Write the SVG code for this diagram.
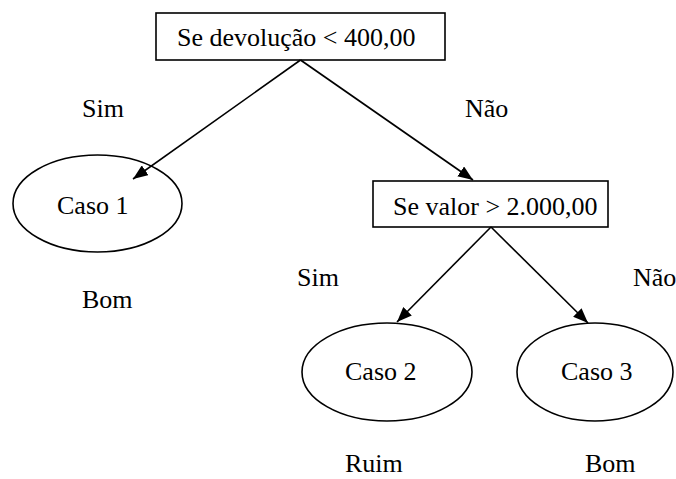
<svg xmlns="http://www.w3.org/2000/svg" width="676" height="479" viewBox="0 0 676 479">
  <style>
    .box { fill: #fff; stroke: #000; stroke-width: 1.6; }
    .oval { fill: none; stroke: #000; stroke-width: 1.6; }
    .edge { stroke: #000; stroke-width: 1.6; fill: none; marker-end: url(#arrow); }
  </style>
  <defs>
    <marker id="arrow" markerUnits="userSpaceOnUse" markerWidth="16" markerHeight="12" refX="15" refY="6" orient="auto">
      <path d="M0,0 L15,6 L0,12 z" fill="#000"/>
    </marker>
  </defs>

  <rect width="676" height="479" fill="#fff"/>

  <g font-family="Liberation Serif, Times New Roman, serif" font-size="26" fill="#000">
    <g id="decisao-devolucao">
      <rect class="box" x="156" y="13" width="289" height="47"/>
      <text x="177" y="46">Se devolução &lt; 400,00</text>
    </g>

    <g id="caso-1">
      <ellipse class="oval" cx="97.5" cy="203.5" rx="84.5" ry="48.5"/>
      <text x="57" y="214">Caso 1</text>
    </g>

    <g id="decisao-valor">
      <rect class="box" x="373" y="181" width="235" height="46"/>
      <text x="393" y="215">Se valor &gt; 2.000,00</text>
    </g>

    <g id="caso-2">
      <ellipse class="oval" cx="387" cy="372" rx="85" ry="49"/>
      <text x="345" y="380">Caso 2</text>
    </g>

    <g id="caso-3">
      <ellipse class="oval" cx="595" cy="372" rx="78" ry="49"/>
      <text x="561" y="380">Caso 3</text>
    </g>

    <g id="connectors">
      <line class="edge" x1="300.5" y1="60" x2="133" y2="179"/>
      <line class="edge" x1="300.5" y1="60" x2="473" y2="180"/>
      <line class="edge" x1="491" y1="227" x2="397" y2="322"/>
      <line class="edge" x1="491" y1="227" x2="588" y2="323"/>
    </g>

    <g id="labels">
      <text x="82" y="117">Sim</text>
      <text x="465" y="117">Não</text>
      <text x="82" y="308">Bom</text>
      <text x="297" y="286">Sim</text>
      <text x="633" y="286">Não</text>
      <text x="345" y="472">Ruim</text>
      <text x="585" y="472">Bom</text>
    </g>
  </g>
</svg>
